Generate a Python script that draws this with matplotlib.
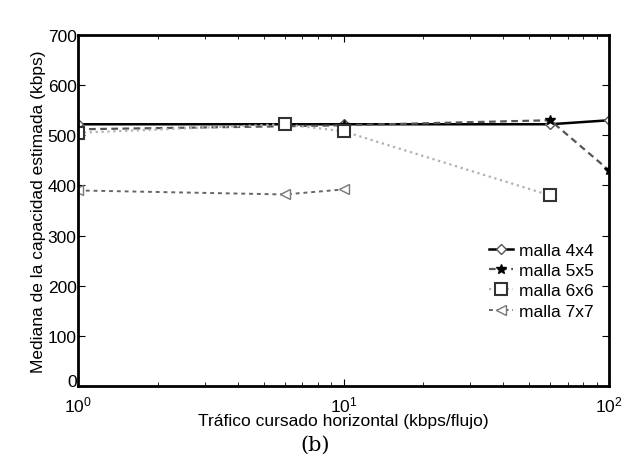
import numpy as np
import matplotlib.pyplot as plt
import matplotlib.transforms as mtransforms
from matplotlib.ticker import LogLocator, NullFormatter

plt.rcParams['font.family'] = ['Liberation Sans', 'DejaVu Sans']

# traffic per flow (kbps) and median estimated capacity (kbps) per mesh size
trafico = [1, 6, 10, 60, 100]
malla_4x4 = [522, 522, 522, 522, 530]
malla_5x5 = [512, 518, 520, 530, 430]
trafico_6x6 = [1, 6, 10, 60]
malla_6x6 = [505, 522, 508, 380]
trafico_7x7 = [1, 6, 10]
malla_7x7 = [390, 382, 392]

fig = plt.figure(figsize=(6.26, 4.77), dpi=100)
ax = fig.add_axes([0.1246, 0.1887, 0.8484, 0.7358])

ax.plot(trafico, malla_4x4, color='black', lw=1.8, marker='D', ms=5,
        mfc='white', mec='#555555', label='malla 4x4')
ax.plot(trafico, malla_5x5, color='#555555', lw=1.6, ls='--', dashes=(3, 2),
        marker='*', ms=7, mfc='black', mec='black', label='malla 5x5')
ax.plot(trafico_6x6, malla_6x6, color='#b0b0b0', lw=1.6, ls=':',
        marker='s', ms=8, mfc='white', mec='#333333', mew=1.5, label='malla 6x6')
ax.plot(trafico_7x7, malla_7x7, color='#666666', lw=1.4, ls='--', dashes=(2, 2),
        marker='<', ms=7, mfc='white', mec='#777777', label='malla 7x7')

ax.set_xscale('log')
ax.set_xlim(1, 100)
ax.set_ylim(0, 700)
ax.set_yticks(np.arange(0, 701, 100))
ax.xaxis.set_minor_locator(LogLocator(base=10, subs=np.arange(2, 10)))
ax.xaxis.set_minor_formatter(NullFormatter())

ax.tick_params(which='both', direction='in', top=True, right=True,
               labelsize=12.5)
ax.tick_params(axis='x', pad=6)
ax.tick_params(axis='y', pad=1)
ax.tick_params(which='major', length=5)
ax.tick_params(which='minor', length=3)
for s in ax.spines.values():
    s.set_linewidth(2)

# nudge the "0" label up so it clears the 10^0 label in the corner
fig.canvas.draw()
zero = ax.get_yticklabels()[0]
zero.set_transform(zero.get_transform() +
                   mtransforms.ScaledTranslation(0, 4 / 72, fig.dpi_scale_trans))

ax.set_xlabel('Tráfico cursado horizontal (kbps/flujo)', fontsize=12.5, labelpad=-1)
ax.set_ylabel('Mediana de la capacidad estimada (kbps)', fontsize=12.5, labelpad=1)

ax.legend(loc='center right', bbox_to_anchor=(1.0, 0.3), frameon=False,
          fontsize=12.5, handlelength=1.4, handletextpad=0.3, labelspacing=0.3)

fig.text(0.503, 0.055, '(b)', fontsize=15, family='DejaVu Serif', ha='center')

fig.savefig('out.png', dpi=100)
